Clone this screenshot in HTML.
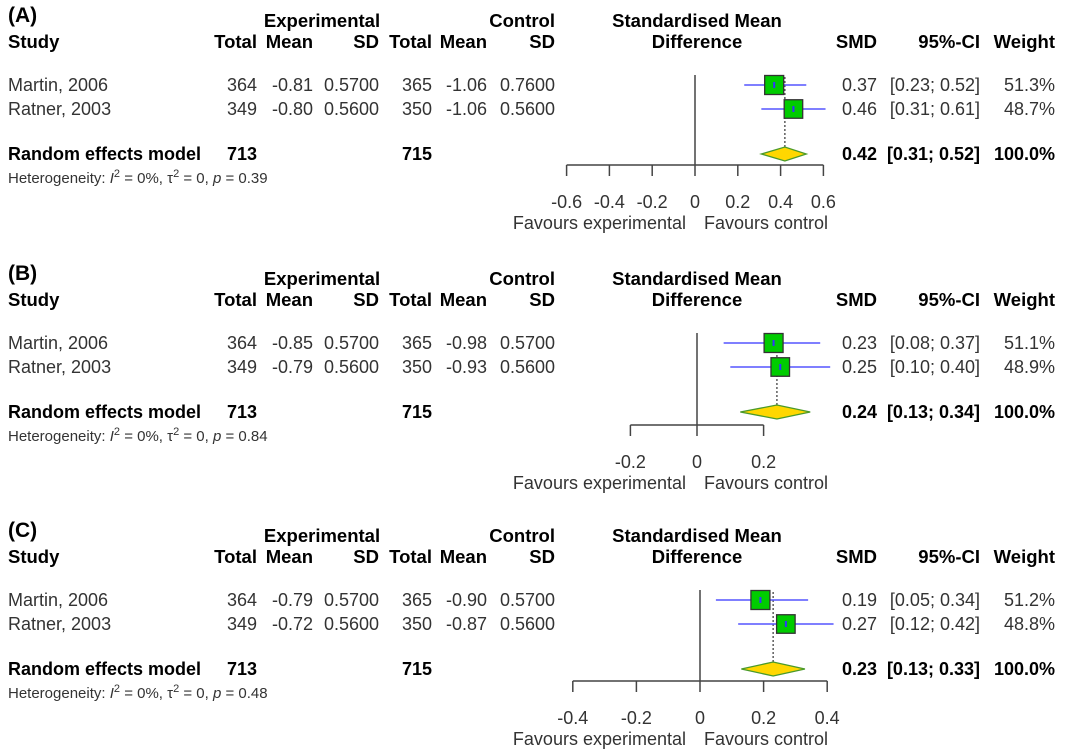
<!DOCTYPE html>
<html><head><meta charset="utf-8"><style>
body{margin:0;background:#fff;}
svg{display:block;font-family:"Liberation Sans",Arial,sans-serif;}
.h{font-weight:bold;fill:#000;font-size:18.5px;}
.r{fill:#333;font-size:18px;}
.b{font-weight:bold;fill:#000;font-size:18px;}
.s{fill:#333;font-size:15px;}
.t{fill:#333;font-size:18px;}
</style></head><body>
<svg id="c" width="1065" height="750" viewBox="0 0 1065 750"></svg>
<script>
const panelLabels=["(A)","(B)","(C)"];
const studies=["Martin, 2006","Ratner, 2003"];
const expTotal=[[364,349],[364,349],[364,349]];
const expMean=[["-0.81","-0.80"],["-0.85","-0.79"],["-0.79","-0.72"]];
const expSD=[["0.5700","0.5600"],["0.5700","0.5600"],["0.5700","0.5600"]];
const ctlTotal=[[365,350],[365,350],[365,350]];
const ctlMean=[["-1.06","-1.06"],["-0.98","-0.93"],["-0.90","-0.87"]];
const ctlSD=[["0.7600","0.5600"],["0.5700","0.5600"],["0.5700","0.5600"]];
const smd=[[0.37,0.46],[0.23,0.25],[0.19,0.27]];
const ciLo=[[0.23,0.31],[0.08,0.10],[0.05,0.12]];
const ciHi=[[0.52,0.61],[0.37,0.40],[0.34,0.42]];
const weights=[[51.3,48.7],[51.1,48.9],[51.2,48.8]];
const sumSMD=[0.42,0.24,0.23];
const sumLo=[0.31,0.13,0.13];
const sumHi=[0.52,0.34,0.33];
const pvals=["0.39","0.84","0.48"];
const ticks=[[-0.6,-0.4,-0.2,0,0.2,0.4,0.6],[-0.2,0,0.2],[-0.4,-0.2,0,0.2,0.4]];
const tickLabels=[["-0.6","-0.4","-0.2","0","0.2","0.4","0.6"],["-0.2","0","0.2"],["-0.4","-0.2","0","0.2","0.4"]];
const layout=[{off:0,zero:695,scale:214,axisY:165},{off:258,zero:697,scale:333,axisY:425},{off:515,zero:700,scale:318,axisY:681}];
const svg=document.getElementById('c');
const NS="http://www.w3.org/2000/svg";
function mk(tag,attrs,parent){const e=document.createElementNS(NS,tag);for(const k in attrs)e.setAttribute(k,attrs[k]);(parent||svg).appendChild(e);return e;}
function txt(x,y,s,cls,anchor,parent){const e=mk('text',{x:x,y:y,class:cls,'text-anchor':anchor||'start'},parent);e.textContent=s;return e;}
function f2(v){return v.toFixed(2);}
for(let p=0;p<3;p++){
  const L=layout[p],o=L.off;
  const g=mk('g',{});
  
  
  const X=v=>L.zero+v*L.scale;
  let e=txt(8,22+o,panelLabels[p],'b','start',g);e.style.fontSize='21px';
  
  txt(322,27+o,'Experimental','h','middle',g);
  txt(555,27+o,'Control','h','end',g);
  txt(697,27+o,'Standardised Mean','h','middle',g);
  txt(8,48+o,'Study','h','start',g);
  txt(257,48+o,'Total','h','end',g);
  txt(313,48+o,'Mean','h','end',g);
  txt(379,48+o,'SD','h','end',g);
  txt(432,48+o,'Total','h','end',g);
  txt(487,48+o,'Mean','h','end',g);
  txt(555,48+o,'SD','h','end',g);
  txt(697,48+o,'Difference','h','middle',g);
  txt(877,48+o,'SMD','h','end',g);
  txt(980,48+o,'95%-CI','h','end',g);
  txt(1055,48+o,'Weight','h','end',g);
  const rowY=[85+o,109+o];
  const diaY=154+o;
  mk('line',{x1:X(0),x2:X(0),y1:75+o,y2:L.axisY,stroke:'#444','stroke-width':1.5},g);
  mk('line',{x1:X(sumSMD[p]),x2:X(sumSMD[p]),y1:rowY[0]-8,y2:diaY-7,stroke:'#444','stroke-width':1.3,'stroke-dasharray':'2,2'},g);
  for(let i=0;i<2;i++){
    const y=rowY[i];
    txt(8,y+6,studies[i],'r','start',g);
    txt(257,y+6,String(expTotal[p][i]),'r','end',g);
    txt(313,y+6,expMean[p][i],'r','end',g);
    txt(379,y+6,expSD[p][i],'r','end',g);
    txt(432,y+6,String(ctlTotal[p][i]),'r','end',g);
    txt(487,y+6,ctlMean[p][i],'r','end',g);
    txt(555,y+6,ctlSD[p][i],'r','end',g);
    txt(877,y+6,f2(smd[p][i]),'r','end',g);
    txt(980,y+6,'['+f2(ciLo[p][i])+'; '+f2(ciHi[p][i])+']','r','end',g);
    txt(1055,y+6,weights[p][i].toFixed(1)+'%','r','end',g);
    const ci=mk('line',{x1:X(ciLo[p][i]),x2:X(ciHi[p][i]),y1:y,y2:y,stroke:'#5555ff','stroke-width':1.5},g);
    
    const sz=19*Math.sqrt(weights[p][i]/51.3);
    const sq=mk('rect',{x:X(smd[p][i])-sz/2,y:y-sz/2,width:sz,height:sz,fill:'#00cc00',stroke:'#333','stroke-width':1.3},g);
    
    mk('line',{x1:X(smd[p][i]),x2:X(smd[p][i]),y1:y-3,y2:y+3,stroke:'#3333ff','stroke-width':2},g);
  }
  txt(8,diaY+6,'Random effects model','b','start',g);
  txt(257,diaY+6,'713','b','end',g);
  txt(432,diaY+6,'715','b','end',g);
  txt(877,diaY+6,f2(sumSMD[p]),'b','end',g);
  txt(980,diaY+6,'['+f2(sumLo[p])+'; '+f2(sumHi[p])+']','b','end',g);
  txt(1055,diaY+6,'100.0%','b','end',g);
  const d=mk('polygon',{points:`${X(sumLo[p])},${diaY} ${X(sumSMD[p])},${diaY-7} ${X(sumHi[p])},${diaY} ${X(sumSMD[p])},${diaY+7}`,fill:'#ffd700',stroke:'#4a9a2a','stroke-width':1.3},g);
  
  const het=mk('text',{x:8,y:diaY+29,class:'s'},g);
  het.innerHTML='Heterogeneity: <tspan font-style="italic">I</tspan><tspan dy="-6" font-size="11">2</tspan><tspan dy="6"> = 0%, τ</tspan><tspan dy="-6" font-size="11">2</tspan><tspan dy="6"> = 0, </tspan><tspan font-style="italic">p</tspan> = '+pvals[p];
  
  const tk=ticks[p];
  const ax=mk('line',{x1:X(tk[0]),x2:X(tk[tk.length-1]),y1:L.axisY,y2:L.axisY,stroke:'#444','stroke-width':1.5},g);
  
  tk.forEach((v,j)=>{
    mk('line',{x1:X(v),x2:X(v),y1:L.axisY,y2:L.axisY+11,stroke:'#444','stroke-width':1.5},g);
    const tl=txt(X(v),L.axisY+43,tickLabels[p][j],'t','middle',g);
    
  });
  txt(686,L.axisY+64,'Favours experimental','t','end',g);
  txt(704,L.axisY+64,'Favours control','t','start',g);
}
</script>
</body></html>
